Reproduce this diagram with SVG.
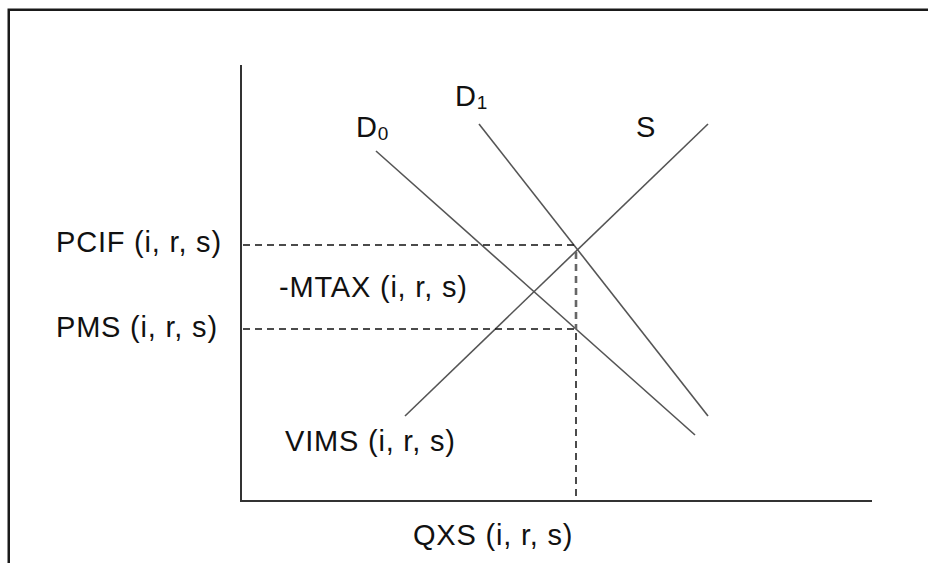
<svg xmlns="http://www.w3.org/2000/svg" width="928" height="563" viewBox="0 0 928 563">
<style>
.lbl{font-family:"Liberation Sans",Arial,sans-serif;font-size:29px;letter-spacing:0.8px;fill:#111}
.sub{font-size:19px;letter-spacing:0}
.ax{stroke:#333;stroke-width:2;fill:none}
.crv{stroke:#555;stroke-width:1.6;fill:none}
.dash{stroke:#111;stroke-width:1.5;stroke-dasharray:7,5;fill:none}
</style>
<rect x="0" y="0" width="928" height="563" fill="#fff"/>
<rect x="8.75" y="9.75" width="940" height="570" fill="none" stroke="#1a1a1a" stroke-width="2.5"/>
<g id="axes">
<line class="ax" x1="241" y1="65" x2="241" y2="502"/>
<line class="ax" x1="240" y1="501" x2="872" y2="501"/>
</g>
<g id="connectors">
<line class="crv" x1="405" y1="416" x2="708" y2="124"/>
<line class="crv" x1="376" y1="151" x2="695" y2="435"/>
<line class="crv" x1="479" y1="124" x2="708" y2="416"/>
<line class="dash" x1="243" y1="245" x2="576" y2="245"/>
<line class="dash" x1="243" y1="329" x2="576" y2="329"/>
<line class="dash" x1="576" y1="252" x2="576" y2="329" style="stroke:#666;stroke-width:2.6"/>
<line class="dash" x1="576" y1="333" x2="576" y2="501"/>
</g>
<g id="label-D0"><text class="lbl" x="356" y="137">D<tspan class="sub" dy="3">0</tspan></text></g>
<g id="label-D1"><text class="lbl" x="455" y="106">D<tspan class="sub" dy="3">1</tspan></text></g>
<g id="label-S"><text class="lbl" x="636" y="137">S</text></g>
<g id="label-PCIF"><text class="lbl" x="56" y="252">PCIF (i, r, s)</text></g>
<g id="label-MTAX"><text class="lbl" x="279" y="297">-MTAX (i, r, s)</text></g>
<g id="label-PMS"><text class="lbl" x="56" y="337">PMS (i, r, s)</text></g>
<g id="label-VIMS"><text class="lbl" x="285" y="451">VIMS (i, r, s)</text></g>
<g id="label-QXS"><text class="lbl" x="413" y="545">QXS (i, r, s)</text></g>
</svg>
